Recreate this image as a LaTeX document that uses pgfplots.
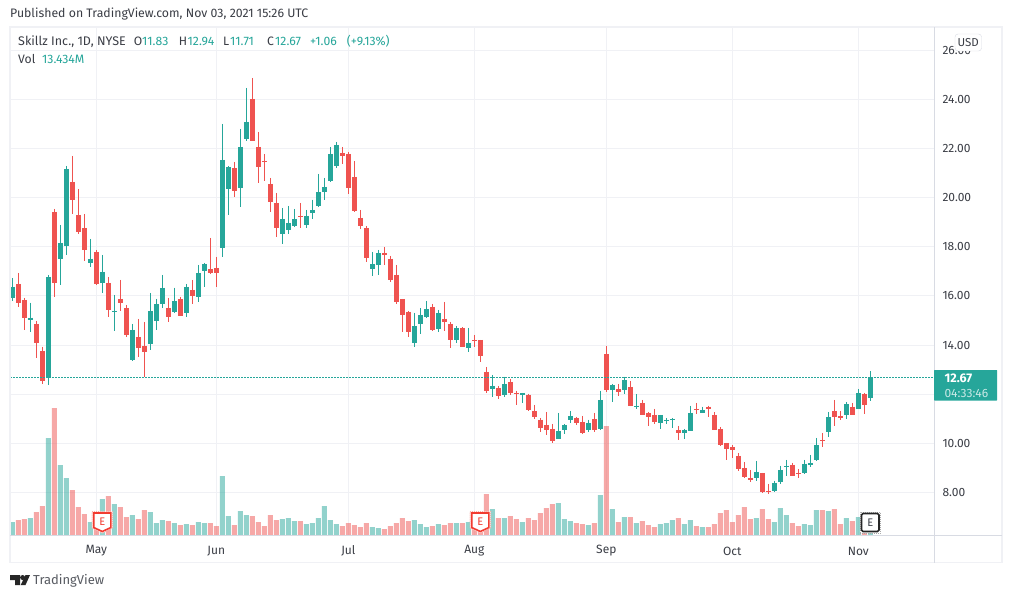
\documentclass[border=0pt]{standalone}
\usepackage{pgfplots}
\usepackage{pgfplotstable}
\usepackage{fontspec}
\setmainfont{Fira Sans}
\pgfplotsset{compat=1.18}
\definecolor{upc}{HTML}{26A69A}
\definecolor{downc}{HTML}{EF5350}
\definecolor{gridc}{HTML}{F0F1F5}
\definecolor{sepc}{HTML}{D8DBE3}
\definecolor{txt}{HTML}{3A3D45}
\pgfplotstableread{
i o h l c v
0 15.93 16.73 15.80 16.37 7.8
3 15.00 15.72 14.55 15.11 10.2
6 12.68 16.85 12.39 16.77 58.2
8 17.48 18.89 16.46 18.16 42.0
9 18.01 21.29 17.68 21.17 34.2
13 17.32 18.32 17.19 17.51 7.8
15 16.54 17.67 16.10 16.98 21.6
17 15.36 16.04 14.59 15.39 18.6
20 13.41 14.86 13.37 14.62 12.0
23 14.06 16.12 13.78 15.39 13.8
24 14.96 15.88 14.63 15.67 7.2
25 15.65 16.85 15.49 16.33 9.0
27 15.36 16.33 15.32 15.80 7.2
29 15.32 16.49 15.12 16.37 6.6
31 15.97 17.26 15.77 16.94 7.8
32 17.03 17.34 16.38 17.30 7.2
35 17.93 23.00 17.60 21.53 35.4
36 20.33 21.29 19.27 21.25 11.4
38 20.37 22.79 19.63 22.06 14.4
39 22.40 24.46 22.28 23.08 12.0
45 18.50 19.58 18.09 19.13 9.6
46 18.66 19.66 18.50 18.97 10.2
47 18.86 19.54 18.82 19.13 8.4
49 18.90 19.50 18.78 19.25 6.6
50 19.39 19.91 19.11 19.50 7.2
51 19.67 20.96 19.63 20.23 10.2
52 20.24 20.80 19.92 20.43 17.4
53 20.69 22.06 20.65 21.78 9.0
54 21.30 22.26 21.22 22.14 6.6
60 17.11 17.79 16.79 17.30 4.8
61 17.27 17.87 16.83 17.75 4.2
67 14.10 15.31 13.90 14.78 9.0
68 14.87 15.51 14.43 15.23 6.6
69 15.16 15.80 15.08 15.47 4.8
71 14.67 15.43 14.51 15.31 6.6
74 14.22 14.78 14.10 14.70 7.2
76 13.86 14.70 13.70 14.09 7.8
80 12.23 12.79 11.87 12.34 15.6
82 11.95 12.71 11.87 12.42 10.2
85 11.95 12.05 11.66 12.05 7.8
91 10.16 11.24 10.16 10.51 19.2
92 10.56 10.79 10.40 10.75 9.6
93 10.96 11.32 10.83 11.12 8.4
96 10.56 10.96 10.48 10.83 6.0
98 10.60 12.14 10.56 11.77 24.0
100 12.15 12.42 11.70 12.38 15.6
102 12.19 12.71 11.99 12.58 10.8
104 11.46 12.01 11.38 11.53 7.2
108 10.81 11.16 10.60 11.16 6.6
109 10.89 11.04 10.77 10.96 7.2
110 10.93 11.04 10.64 11.00 9.0
112 10.44 10.59 10.16 10.55 6.6
113 10.52 11.53 10.52 11.24 9.0
115 11.25 11.49 11.23 11.36 4.8
124 8.57 9.29 8.45 8.84 10.2
127 8.07 8.48 8.03 8.39 7.8
128 8.41 9.09 8.33 8.92 16.2
129 9.02 9.33 8.69 9.09 12.0
132 8.81 9.33 8.77 9.17 6.6
133 9.10 9.53 9.02 9.21 6.0
134 9.34 10.22 9.30 9.94 15.0
136 10.48 11.28 10.24 11.08 14.4
139 11.17 11.69 10.97 11.60 10.2
141 11.38 12.22 11.38 12.05 10.8
143 11.83 12.94 11.71 12.67 13.434
}\upcandles
\pgfplotstableread{
i o h l c v
1 16.49 16.94 15.53 15.69 9.0
2 15.84 15.92 14.63 15.08 9.6
4 14.86 14.98 13.49 14.10 13.8
5 13.76 13.93 12.43 12.52 17.4
7 19.42 19.54 15.97 16.54 76.2
10 20.64 21.69 19.31 19.88 27.0
11 19.29 20.35 18.50 18.58 16.8
12 18.77 19.34 17.40 17.88 12.6
14 17.79 17.87 16.46 16.50 12.0
16 16.53 16.77 15.16 15.44 23.4
18 15.88 16.65 15.40 15.69 16.8
19 15.51 15.63 14.31 14.39 10.8
21 14.33 15.06 13.53 13.86 9.6
22 13.97 14.94 12.68 13.70 15.0
26 15.51 15.92 14.92 15.12 8.4
28 15.88 15.96 15.20 15.20 6.0
30 16.24 16.65 15.65 16.01 6.0
33 17.10 18.36 16.87 16.95 7.2
34 17.14 17.59 16.38 16.95 5.4
37 21.21 21.45 20.04 20.28 6.0
40 24.01 24.87 22.28 22.32 11.4
41 22.06 22.67 20.61 21.26 7.8
42 21.49 21.78 20.69 21.46 5.4
43 20.56 20.80 19.43 19.80 12.0
44 19.78 20.19 18.41 18.78 9.0
48 19.25 19.78 18.78 19.19 8.4
55 21.82 22.06 21.38 21.71 5.4
56 21.78 21.86 20.16 20.37 7.2
57 20.84 21.49 19.43 19.47 6.0
58 19.17 19.50 18.74 18.86 4.8
59 18.77 18.85 17.36 17.52 7.2
62 17.75 17.99 17.27 17.68 3.6
63 17.51 17.63 16.58 16.66 5.4
64 16.85 17.26 15.65 15.77 7.2
65 15.88 15.88 14.55 15.24 10.2
66 15.35 15.39 14.31 14.51 8.4
70 15.55 15.67 14.59 14.63 5.4
72 15.07 15.76 14.59 14.92 6.0
73 14.86 14.94 13.86 14.22 7.2
75 14.70 14.72 13.90 13.90 7.2
77 14.21 14.41 13.90 14.18 7.8
78 14.21 14.21 13.29 13.57 7.0
79 12.91 13.11 12.03 12.11 24.6
81 12.26 12.34 11.82 11.91 10.2
83 12.50 12.62 11.95 12.03 11.4
84 12.05 12.14 11.58 11.99 9.6
86 11.97 12.01 11.30 11.34 10.2
87 11.32 11.57 11.01 11.09 9.0
88 10.96 11.04 10.48 10.64 13.2
89 10.75 11.28 10.32 10.56 16.2
90 10.59 10.79 10.03 10.08 18.6
94 11.04 11.08 10.73 10.81 7.2
95 10.87 11.12 10.40 10.44 6.6
97 11.00 11.24 10.48 10.56 7.2
99 13.64 13.97 12.07 12.19 65.4
101 12.22 12.42 11.91 12.07 7.8
103 12.30 12.54 11.50 11.50 10.8
105 11.65 11.77 11.17 11.17 8.4
106 11.24 11.28 10.69 11.09 6.0
107 11.16 11.40 10.77 10.85 4.8
111 10.55 10.71 10.12 10.44 10.2
114 11.40 11.65 11.21 11.38 5.4
116 11.49 11.53 11.09 11.38 4.8
117 11.16 11.28 10.56 10.56 6.6
118 10.59 10.67 9.90 9.94 13.2
119 10.02 10.02 9.34 9.79 15.0
120 9.86 9.94 9.42 9.71 7.8
121 9.49 9.61 8.88 8.96 12.0
122 9.00 9.25 8.57 8.65 16.8
123 8.60 8.92 8.41 8.49 9.6
125 8.80 8.80 7.99 8.03 15.6
126 8.07 8.35 7.95 8.04 9.6
130 9.13 9.21 8.69 8.69 7.2
131 8.80 8.96 8.61 8.77 5.4
135 10.14 10.43 9.87 10.08 15.0
137 11.32 11.77 10.69 11.09 15.6
138 11.12 11.32 10.93 11.04 6.6
140 11.49 11.65 11.17 11.17 8.4
142 12.01 12.05 11.21 11.58 9.0
}\downcandles
\newcommand{\fs}[1]{\fontsize{#1}{#1}\selectfont}
\definecolor{F44}{HTML}{F23B30}
\newcommand{\shield}[1]{%
  \draw[F44!40,line width=1pt,fill=white,dash pattern=on 1pt off 1pt] (#1-10.2pt,86.5pt) -- (#1+10.2pt,86.5pt) -- (#1+10.2pt,70pt) -- (#1,65pt) -- (#1-10.2pt,70pt) -- cycle;
  \draw[F44,line width=1.6pt,fill=white,line join=miter] (#1-8.6pt,85pt) -- (#1+8.6pt,85pt) -- (#1+8.6pt,70.5pt) -- (#1,66.5pt) -- (#1-8.6pt,70.5pt) -- cycle;
  \node[text=F44,font=\fs{11}] at (#1,76pt) {E};}
\begin{document}
\begin{tikzpicture}[x=1pt,y=1pt]
\useasboundingbox (0,0) rectangle (1012,598);
\fill[white] (0,0) rectangle (1012,598);
\begin{axis}[
  at={(10pt,63pt)},anchor=south west,
  width=924pt,height=508pt,scale only axis,
  xmin=-0.388,xmax=153.61,ymin=6.271,ymax=26.938,
  axis line style={draw=none},
  grid=major,grid style={gridc,line width=1pt},
  xtick={14,34,56,77,99,120,141},
  xticklabels={May,Jun,Jul,Aug,Sep,Oct,Nov},
  ytick={8,10,12,14,16,18,20,22,24,26},
  yticklabel pos=right,
  major tick length=0pt,
  tick style={draw=none},
  /pgf/number format/assume math mode=true,
  /pgf/number format/fixed,/pgf/number format/fixed zerofill,/pgf/number format/precision=2,
  tick label style={font=\fs{12},text=txt},
  xticklabel style={anchor=center,yshift=-16pt},
  yticklabel style={anchor=west,xshift=5pt},
  clip=true,
]
\addplot[draw=none,no marks,forget plot,error bars/.cd,y dir=minus,y explicit,error mark=none,error bar style={upc,line width=1pt}]
  table[x=i,y=h,y error minus expr=\thisrow{h}-\thisrow{l}] {\upcandles};
\addplot[draw=none,no marks,forget plot,error bars/.cd,y dir=minus,y explicit,error mark=none,error bar style={upc,line width=5pt}]
  table[x=i,y=c,y error minus expr=\thisrow{c}-\thisrow{o}] {\upcandles};
\addplot[draw=none,no marks,forget plot,error bars/.cd,y dir=minus,y explicit,error mark=none,error bar style={downc,line width=1pt}]
  table[x=i,y=h,y error minus expr=\thisrow{h}-\thisrow{l}] {\downcandles};
\addplot[draw=none,no marks,forget plot,error bars/.cd,y dir=minus,y explicit,error mark=none,error bar style={downc,line width=5pt}]
  table[x=i,y=o,y error minus expr=\thisrow{o}-\thisrow{c}] {\downcandles};
\addplot[upc,line width=1.5pt,dash pattern=on 1.5pt off 1.5pt] coordinates {(-0.388,12.67) (153.61,12.67)};
\end{axis}
\begin{axis}[
  at={(10pt,63pt)},anchor=south west,
  width=924pt,height=508pt,scale only axis,
  xmin=-0.388,xmax=153.61,ymin=0,ymax=304.8,
  hide axis,
]
\addplot[ybar,bar width=5pt,bar shift=0pt,fill=upc,draw=none,fill opacity=0.5] table[x=i,y=v] {\upcandles};
\addplot[ybar,bar width=5pt,bar shift=0pt,fill=downc,draw=none,fill opacity=0.5] table[x=i,y=v] {\downcandles};
\end{axis}
% frame
\draw[gridc,line width=1.5pt] (10,35.5) rectangle (1002,571);
\draw[sepc,line width=1pt] (934.5,35.5) -- (934.5,571);
\draw[sepc,line width=1pt] (10,62.5) -- (1002,62.5);
% price label
\fill[upc,rounded corners=0.5pt] (934,197.5) rectangle (997,228);
\node[text=white,font=\fs{12.5}\bfseries,anchor=west] at (941,220) {12.67};
\node[text=white,opacity=0.75,font=\fs{12},anchor=west] at (941,205) {04:33:46};
% USD
\draw[sepc,fill=white,rounded corners=3pt] (955,547) rectangle (981.5,564);
\node[text=txt,font=\fs{11.5},inner sep=0pt] at (968.2,555.5) {USD};
% earnings badges
\shield{102.3}
\shield{480.3}
\draw[gray!70,line width=1pt,fill=white,dash pattern=on 1pt off 1pt] (860,65) rectangle (880.5,86);
\draw[black!85,line width=1.6pt,fill=white,rounded corners=1.5pt] (861.5,66.5) rectangle (879,84.5);
\node[text=txt,font=\fs{11}] at (870.3,75.5) {E};
% headline
\node[anchor=west,text=txt,font=\fs{12.3},inner sep=0pt] at (10,584) {Published on TradingView.com, Nov 03, 2021 15:26 UTC};
\node[anchor=west,text=txt,font=\fs{12.5},inner sep=0pt] at (18,556.5) {Skillz Inc., 1D, NYSE};
\node[anchor=west,text=txt,font=\fs{12.2},inner sep=0pt] at (133.7,556.5) {O};
\node[anchor=west,text=upc,font=\fs{12.2},inner sep=0pt] at (142,556.5) {11.83};
\node[anchor=west,text=txt,font=\fs{12.2},inner sep=0pt] at (178.7,556.5) {H};
\node[anchor=west,text=upc,font=\fs{12.2},inner sep=0pt] at (187.5,556.5) {12.94};
\node[anchor=west,text=txt,font=\fs{12.2},inner sep=0pt] at (223,556.5) {L};
\node[anchor=west,text=upc,font=\fs{12.2},inner sep=0pt] at (230,556.5) {11.71};
\node[anchor=west,text=txt,font=\fs{12.2},inner sep=0pt] at (267,556.5) {C};
\node[anchor=west,text=upc,font=\fs{12.2},inner sep=0pt] at (275,556.5) {12.67};
\node[anchor=west,text=upc,font=\fs{12.2},inner sep=0pt] at (310,556.5) {+1.06};
\node[anchor=west,text=upc,font=\fs{12.2},inner sep=0pt] at (346.7,556.5) {(+9.13\%)};
\node[anchor=west,text=txt,font=\fs{12.2},inner sep=0pt] at (18,539) {Vol};
\node[anchor=west,text=upc,font=\fs{12.2},inner sep=0pt] at (42,539) {13.434M};
% logo
\fill[black!85] (10,23) -- (20,23) -- (20,13) -- (15,13) -- (15,18) -- (10,18) -- cycle;
\fill[black!85] (22.6,20.5) circle (2.5);
\fill[black!85] (25.5,23) -- (30,23) -- (25.5,13) -- (20.7,13) -- cycle;
\node[anchor=west,text=txt!85,font=\fs{13},inner sep=0pt] at (33,17.5) {TradingView};
\end{tikzpicture}
\end{document}
